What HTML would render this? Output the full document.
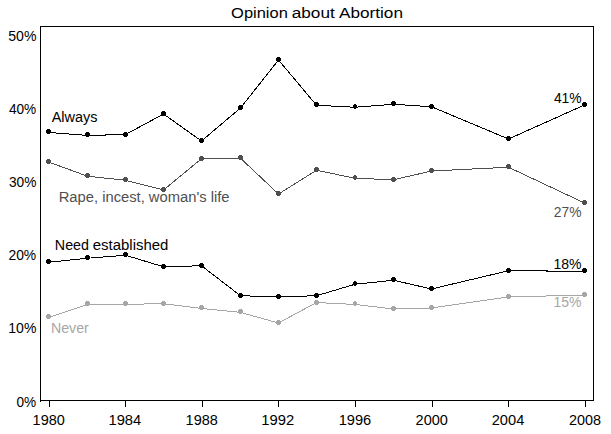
<!DOCTYPE html>
<html><head><meta charset="utf-8"><title>Opinion about Abortion</title>
<style>
html,body{margin:0;padding:0;background:#fff;width:611px;height:434px;overflow:hidden;}
svg{display:block;font-family:"Liberation Sans", sans-serif;}
</style></head><body>
<svg width="611" height="434" viewBox="0 0 611 434">
<rect width="611" height="434" fill="#fff"/>
<path d="M40.5,26.5 H593.5 V400.5 H40.5 Z M40.5,400.5 V401.5" fill="none" stroke="#000" stroke-width="1" shape-rendering="crispEdges"/>
<path d="M49.5,401 V407 M125.5,401 V407 M202.5,401 V407 M278.5,401 V407 M355.5,401 V407 M432.5,401 V407 M508.5,401 V407 M585.5,401 V407" stroke="#000" stroke-width="1" shape-rendering="crispEdges"/>
<polyline points="48.50,317.40 87.50,304.40 125.50,304.25 163.50,303.75 201.50,308.40 240.50,312.40 278.50,323.00 316.50,302.55 355.00,304.45 393.50,309.00 431.50,308.00 508.50,297.00 584.50,295.00" fill="none" stroke="#a6a6a6" stroke-width="1" shape-rendering="crispEdges"/>
<path d="M47,314H50V315H51V318H50V319H47V318H46V315H47ZM86,301H89V302H90V305H89V306H86V305H85V302H86ZM124,301H127V302H128V305H127V306H124V305H123V302H124ZM162,301H165V302H166V305H165V306H162V305H161V302H162ZM200,305H203V306H204V309H203V310H200V309H199V306H200ZM239,309H242V310H243V313H242V314H239V313H238V310H239ZM277,320H280V321H281V324H280V325H277V324H276V321H277ZM315,300H318V301H319V304H318V305H315V304H314V301H315ZM354,301H356V302H357V305H356V306H354V305H353V302H354ZM392,306H395V307H396V310H395V311H392V310H391V307H392ZM430,305H433V306H434V309H433V310H430V309H429V306H430ZM507,294H510V295H511V298H510V299H507V298H506V295H507ZM583,292H586V293H587V296H586V297H583V296H582V293H583Z" fill="#a6a6a6" shape-rendering="crispEdges"/>
<polyline points="48.50,262.25 87.50,258.25 125.50,255.25 163.50,266.75 201.50,265.75 240.50,295.75 278.50,296.75 316.50,295.75 355.00,284.25 393.50,280.25 431.50,289.00 508.50,270.75 584.50,271.25" fill="none" stroke="#000" stroke-width="1" shape-rendering="crispEdges"/>
<path d="M47,259H50V260H51V263H50V264H47V263H46V260H47ZM86,255H89V256H90V259H89V260H86V259H85V256H86ZM124,252H127V253H128V256H127V257H124V256H123V253H124ZM162,264H165V265H166V268H165V269H162V268H161V265H162ZM200,263H203V264H204V267H203V268H200V267H199V264H200ZM239,293H242V294H243V297H242V298H239V297H238V294H239ZM277,294H280V295H281V298H280V299H277V298H276V295H277ZM315,293H318V294H319V297H318V298H315V297H314V294H315ZM354,281H356V282H357V285H356V286H354V285H353V282H354ZM392,277H395V278H396V281H395V282H392V281H391V278H392ZM430,286H433V287H434V290H433V291H430V290H429V287H430ZM507,268H510V269H511V272H510V273H507V272H506V269H507ZM583,268H586V269H587V272H586V273H583V272H582V269H583Z" fill="#000" shape-rendering="crispEdges"/>
<polyline points="48.50,162.00 87.50,176.25 125.50,180.25 163.50,190.00 201.50,158.75 240.50,158.25 278.50,194.00 316.50,170.25 355.00,178.25 393.50,179.75 431.50,171.00 508.50,167.25 584.50,203.00" fill="none" stroke="#4f4f4f" stroke-width="1" shape-rendering="crispEdges"/>
<path d="M47,159H50V160H51V163H50V164H47V163H46V160H47ZM86,173H89V174H90V177H89V178H86V177H85V174H86ZM124,177H127V178H128V181H127V182H124V181H123V178H124ZM162,187H165V188H166V191H165V192H162V191H161V188H162ZM200,156H203V157H204V160H203V161H200V160H199V157H200ZM239,155H242V156H243V159H242V160H239V159H238V156H239ZM277,191H280V192H281V195H280V196H277V195H276V192H277ZM315,167H318V168H319V171H318V172H315V171H314V168H315ZM354,175H356V176H357V179H356V180H354V179H353V176H354ZM392,177H395V178H396V181H395V182H392V181H391V178H392ZM430,168H433V169H434V172H433V173H430V172H429V169H430ZM507,164H510V165H511V168H510V169H507V168H506V165H507ZM583,200H586V201H587V204H586V205H583V204H582V201H583Z" fill="#4f4f4f" shape-rendering="crispEdges"/>
<polyline points="48.50,132.42 87.50,135.42 125.50,134.56 163.50,114.00 201.50,141.00 240.50,108.00 278.50,60.00 316.50,105.25 355.00,107.25 393.50,104.25 431.50,106.75 508.50,139.00 584.50,105.00" fill="none" stroke="#000" stroke-width="1" shape-rendering="crispEdges"/>
<path d="M47,129H50V130H51V133H50V134H47V133H46V130H47ZM86,132H89V133H90V136H89V137H86V136H85V133H86ZM124,132H127V133H128V136H127V137H124V136H123V133H124ZM162,111H165V112H166V115H165V116H162V115H161V112H162ZM200,138H203V139H204V142H203V143H200V142H199V139H200ZM239,105H242V106H243V109H242V110H239V109H238V106H239ZM277,57H280V58H281V61H280V62H277V61H276V58H277ZM315,102H318V103H319V106H318V107H315V106H314V103H315ZM354,104H356V105H357V108H356V109H354V108H353V105H354ZM392,101H395V102H396V105H395V106H392V105H391V102H392ZM430,104H433V105H434V108H433V109H430V108H429V105H430ZM507,136H510V137H511V140H510V141H507V140H506V137H507ZM583,102H586V103H587V106H586V107H583V106H582V103H583Z" fill="#000" shape-rendering="crispEdges"/>
<text x="231.10" y="18" font-size="15.4" fill="#000" textLength="56.73" lengthAdjust="spacingAndGlyphs">Opinion</text>
<text x="291.72" y="18" font-size="15.4" fill="#000" textLength="43.03" lengthAdjust="spacingAndGlyphs">about</text>
<text x="338.99" y="18" font-size="15.4" fill="#000" textLength="64.00" lengthAdjust="spacingAndGlyphs">Abortion</text>
<text x="8.29" y="41" font-size="14" fill="#000" textLength="28.16" lengthAdjust="spacingAndGlyphs">50%</text>
<text x="8.92" y="114" font-size="14" fill="#000" textLength="27.32" lengthAdjust="spacingAndGlyphs">40%</text>
<text x="8.96" y="187" font-size="14" fill="#000" textLength="27.43" lengthAdjust="spacingAndGlyphs">30%</text>
<text x="8.44" y="260" font-size="14" fill="#000" textLength="27.77" lengthAdjust="spacingAndGlyphs">20%</text>
<text x="8.33" y="333" font-size="14" fill="#000" textLength="28.04" lengthAdjust="spacingAndGlyphs">10%</text>
<text x="16.55" y="407" font-size="14" fill="#000" textLength="19.68" lengthAdjust="spacingAndGlyphs">0%</text>
<text x="51.66" y="122" font-size="14" fill="#000" textLength="45.81" lengthAdjust="spacingAndGlyphs">Always</text>
<text x="58.71" y="202" font-size="14" fill="#4f4f4f" textLength="170.85" lengthAdjust="spacingAndGlyphs">Rape, incest, woman&#39;s life</text>
<text x="54.85" y="250" font-size="14" fill="#000" textLength="34.14" lengthAdjust="spacingAndGlyphs">Need</text>
<text x="92.76" y="250" font-size="14" fill="#000" textLength="75.61" lengthAdjust="spacingAndGlyphs">established</text>
<text x="50.92" y="333" font-size="14" fill="#a6a6a6" textLength="37.86" lengthAdjust="spacingAndGlyphs">Never</text>
<text x="553.89" y="103" font-size="14" fill="#000" textLength="27.74" lengthAdjust="spacingAndGlyphs">41%</text>
<text x="553.80" y="217" font-size="14" fill="#4f4f4f" textLength="27.67" lengthAdjust="spacingAndGlyphs">27%</text>
<text x="553.50" y="269" font-size="14" fill="#000" textLength="28.07" lengthAdjust="spacingAndGlyphs">18%</text>
<text x="553.53" y="307" font-size="14" fill="#a6a6a6" textLength="28.03" lengthAdjust="spacingAndGlyphs">15%</text>
<text x="32.61" y="425" font-size="14" fill="#000" textLength="32.23" lengthAdjust="spacingAndGlyphs">1980</text>
<text x="108.48" y="425" font-size="14" fill="#000" textLength="32.77" lengthAdjust="spacingAndGlyphs">1984</text>
<text x="185.62" y="425" font-size="14" fill="#000" textLength="32.23" lengthAdjust="spacingAndGlyphs">1988</text>
<text x="261.29" y="425" font-size="14" fill="#000" textLength="32.91" lengthAdjust="spacingAndGlyphs">1992</text>
<text x="338.70" y="425" font-size="14" fill="#000" textLength="32.55" lengthAdjust="spacingAndGlyphs">1996</text>
<text x="415.57" y="425" font-size="14" fill="#000" textLength="32.35" lengthAdjust="spacingAndGlyphs">2000</text>
<text x="491.72" y="425" font-size="14" fill="#000" textLength="32.57" lengthAdjust="spacingAndGlyphs">2004</text>
<text x="568.90" y="425" font-size="14" fill="#000" textLength="32.01" lengthAdjust="spacingAndGlyphs">2008</text>
</svg>
</body></html>
